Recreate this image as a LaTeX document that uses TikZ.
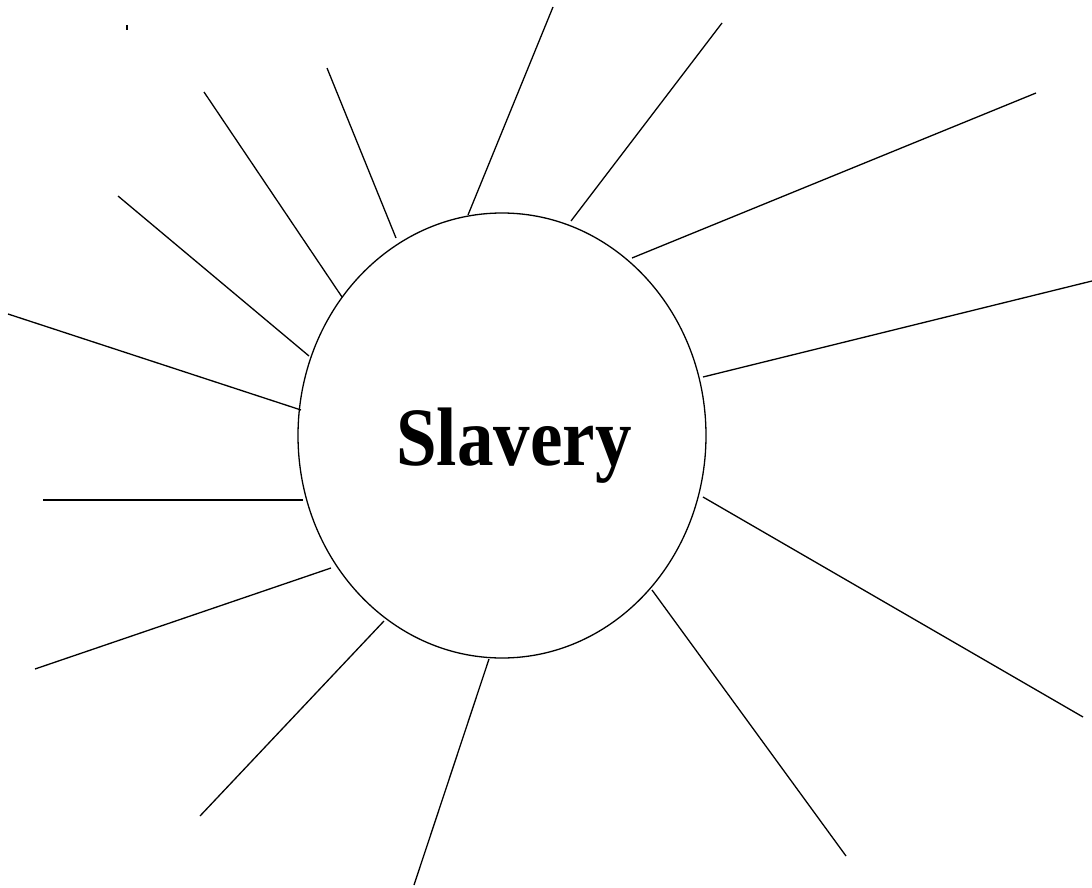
\documentclass[tikz,border=0pt]{standalone}
\usepackage{fontspec}
\setmainfont{Liberation Serif}
\usetikzlibrary{shapes.geometric}
\begin{document}
\begin{tikzpicture}[x=1pt,y=-1pt,
  ray/.style={line width=1.3pt,black},
  hub/.style={draw,line width=1.3pt,ellipse,minimum width=408pt,minimum height=445pt,inner sep=0pt}]
\useasboundingbox (0,0) rectangle (1092,888);
\node[hub] (c) at (502,435.5) {};
\node[xscale=0.88,font=\fontsize{83}{90}\selectfont\bfseries] (t) at (514,446) {Slavery};
\foreach \i/\ax/\ay/\bx/\by in {
 1/468/215/553/7, 2/571/221/722/23, 3/632/258/1036/93, 4/703/377/1092/281,
 5/703/497/1083/717, 6/652/590/846/856, 7/489/659/414/885, 8/384/621/200/816,
 9/331/568/35/669, 10/303/500/43/500, 11/301/410/8/314, 12/309/356/118/196,
 13/342/297/204/92, 14/396/238/327/68}{
  \coordinate (a\i) at (\ax,\ay);
  \coordinate (b\i) at (\bx,\by);
  \draw[ray] (a\i) -- (b\i);
}
\fill (126.3,25.5) rectangle (128,30.5);
\end{tikzpicture}
\end{document}
